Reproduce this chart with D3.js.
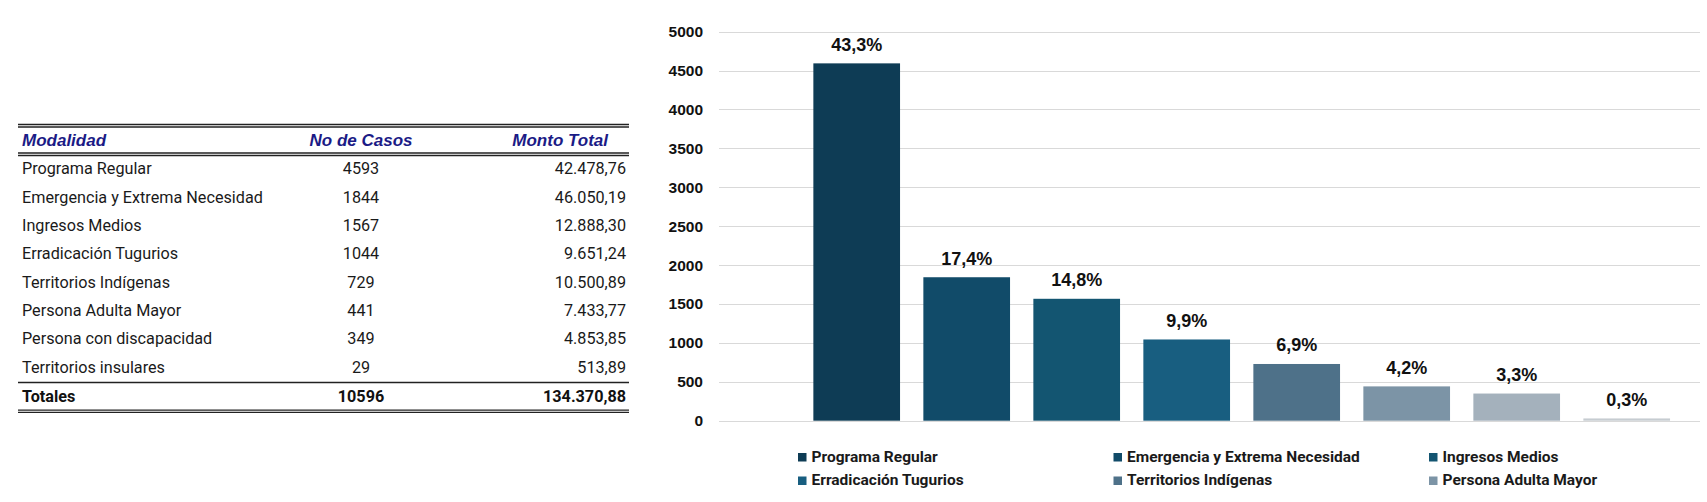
<!DOCTYPE html>
<html lang="es">
<head>
<meta charset="utf-8">
<title>Casos por modalidad</title>
<script src="https://cdn.jsdelivr.net/npm/d3@7"></script>
<style>
  body { margin: 0; background: #fff; }
  svg { display: block; }
</style>
</head>
<body>
<div id="chart"></div>
<script>
// Data
const modalidades = [
    'Programa Regular',
    'Emergencia y Extrema Necesidad',
    'Ingresos Medios',
    'Erradicación Tugurios',
    'Territorios Indígenas',
    'Persona Adulta Mayor',
    'Persona con discapacidad',
    'Territorios insulares'
];
const casos = [4593, 1844, 1567, 1044, 729, 441, 349, 29];
const montos = [42478.76, 46050.19, 12888.30, 9651.24, 10500.89, 7433.77, 4853.85, 513.89];
const totalCasos = 10596;
const totalMonto = 134370.88;
const tableHeaders = ['Modalidad', 'No de Casos', 'Monto Total'];
const yTicks = [0, 500, 1000, 1500, 2000, 2500, 3000, 3500, 4000, 4500, 5000];
const barColors = ['#0e3c55', '#114b69', '#135571', '#185e80', '#4e7189', '#7c94a6', '#a4b1bc', '#c6ccd1'];
const legendCount = 6; // only six entries fit in the legend box

// Spanish number format
const es = d3.formatLocale({ decimal: ',', thousands: '.', grouping: [3], currency: ['', ''] });
const fmtMonto = es.format(',.2f');
const fmtPct = es.format('.1f');

const W = 1707, H = 502;

const svg = d3.select('#chart')
    .append('svg')
    .attr('width', W)
    .attr('height', H);

// ---------- Table ----------
const T = { left: 18, right: 629, textLeft: 22, col2: 361, col3: 626, head3: 608 };
const tbl = svg.append('g').attr('class', 'table');

function hline(y, w, color) {
    tbl.append('line')
        .attr('x1', T.left).attr('x2', T.right)
        .attr('y1', y).attr('y2', y)
        .attr('stroke', color || '#222')
        .attr('stroke-width', w);
}
// double rules
hline(124.5, 1.3); hline(127, 1.3);
hline(153, 1.3); hline(155.5, 1.3);
hline(382.5, 1.6);
hline(410.2, 1.3); hline(412.4, 1.3);

const headY = 146;
[[T.textLeft, 'start'], [T.col2, 'middle'], [T.head3, 'end']].forEach(([x, anchor], i) => {
    tbl.append('text')
        .attr('x', x).attr('y', headY)
        .attr('text-anchor', anchor)
        .attr('fill', '#1b1b86')
        .style('font-family', '"Liberation Sans", Arial, sans-serif')
        .style('font-size', '17px')
        .style('font-weight', 'bold')
        .style('font-style', 'italic')
        .text(tableHeaders[i]);
});

const rowY = d3.scaleLinear().domain([0, 7]).range([174.3, 372.7]);
const rowFont = 'Roboto, "Noto Sans", sans-serif';

const rows = tbl.selectAll('.row')
    .data(modalidades)
    .enter()
    .append('g')
    .attr('class', 'row')
    .attr('transform', (d, i) => `translate(0,${rowY(i)})`)
    .style('font-family', rowFont)
    .style('font-size', '16.2px')
    .attr('fill', '#1a1a1a');

rows.append('text').attr('x', T.textLeft).text(d => d);
rows.append('text').attr('x', T.col2).attr('text-anchor', 'middle').text((d, i) => casos[i]);
rows.append('text').attr('x', T.col3).attr('text-anchor', 'end').text((d, i) => fmtMonto(montos[i]));

const tot = tbl.append('g')
    .attr('transform', 'translate(0,401.5)')
    .style('font-family', rowFont)
    .style('font-size', '16.2px')
    .style('font-weight', 'bold')
    .attr('fill', '#111');
tot.append('text').attr('x', T.textLeft).text('Totales');
tot.append('text').attr('x', T.col2).attr('text-anchor', 'middle').text(totalCasos);
tot.append('text').attr('x', T.col3).attr('text-anchor', 'end').text(fmtMonto(totalMonto));

// ---------- Bar chart ----------
const plot = { left: 719, right: 1700, top: 31.7, bottom: 420.7 };

const y = d3.scaleLinear()
    .domain([0, 5000])
    .range([plot.bottom, plot.top]);

const x = d3.scaleBand()
    .domain(modalidades)
    .range([801.7, 1681.7])
    .paddingInner(0.212)
    .paddingOuter(0.106);

const chart = svg.append('g').attr('class', 'chart');

// gridlines
chart.selectAll('.grid')
    .data(yTicks)
    .enter()
    .append('line')
    .attr('class', 'grid')
    .attr('x1', plot.left).attr('x2', plot.right)
    .attr('y1', d => Math.round(y(d)) + 0.5)
    .attr('y2', d => Math.round(y(d)) + 0.5)
    .attr('stroke', '#d9d9d9')
    .attr('stroke-width', 1);

// y axis labels
const yAxis = d3.axisLeft(y)
    .tickValues(yTicks)
    .tickFormat(d3.format('d'))
    .tickSize(0)
    .tickPadding(0);
const yg = chart.append('g')
    .attr('transform', 'translate(703,0)')
    .call(yAxis);
yg.select('.domain').remove();
yg.selectAll('text')
    .style('font-family', '"Liberation Sans", Arial, sans-serif')
    .style('font-size', '15.5px')
    .style('font-weight', 'bold')
    .attr('fill', '#111');

// bars
chart.selectAll('.bar')
    .data(modalidades)
    .enter()
    .append('rect')
    .attr('class', 'bar')
    .attr('x', d => x(d))
    .attr('width', x.bandwidth())
    .attr('y', (d, i) => y(casos[i]))
    .attr('height', (d, i) => plot.bottom - y(casos[i]))
    .attr('fill', (d, i) => barColors[i]);

// percentage labels
chart.selectAll('.pct')
    .data(modalidades)
    .enter()
    .append('text')
    .attr('class', 'pct')
    .attr('x', d => x(d) + x.bandwidth() / 2)
    .attr('y', (d, i) => y(casos[i]) - 12.5)
    .attr('text-anchor', 'middle')
    .style('font-family', '"Liberation Sans", Arial, sans-serif')
    .style('font-size', '18px')
    .style('font-weight', 'bold')
    .attr('fill', '#111')
    .text((d, i) => fmtPct(casos[i] / totalCasos * 100) + '%');

// legend
const legend = svg.append('g').attr('class', 'legend');
const legCols = [798, 1113.5, 1429];
const legRows = [461.5, 485];
const items = legend.selectAll('.leg')
    .data(modalidades.slice(0, legendCount))
    .enter()
    .append('g')
    .attr('class', 'leg')
    .attr('transform', (d, i) => `translate(${legCols[i % 3]},${legRows[Math.floor(i / 3)]})`);

items.append('rect')
    .attr('x', 0).attr('y', -8.5)
    .attr('width', 8.5).attr('height', 8.5)
    .attr('fill', (d, i) => barColors[i]);

items.append('text')
    .attr('x', 13.5)
    .attr('y', 0)
    .style('font-family', 'Roboto, "Noto Sans", sans-serif')
    .style('font-size', '15.5px')
    .style('font-weight', 'bold')
    .attr('fill', '#1a1a1a')
    .text(d => d);
</script>
</body>
</html>
